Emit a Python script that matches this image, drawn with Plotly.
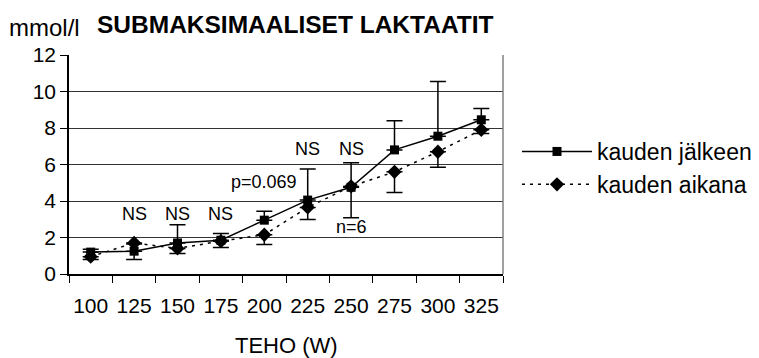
import plotly.graph_objects as go

# ---- data ----
categories = ["100", "125", "150", "175", "200", "225", "250", "275", "300", "325"]
after_season = [1.2, 1.25, 1.7, 1.85, 2.95, 4.05, 4.75, 6.8, 7.55, 8.45]
after_err_plus = [0.15, 0.4, 1.0, 0.37, 0.49, 1.7, 1.34, 1.6, 3.0, 0.62]
during_season = [0.95, 1.7, 1.4, 1.8, 2.15, 3.65, 4.8, 5.6, 6.7, 7.9]
during_err_minus = [0.15, 0.9, 0.27, 0.35, 0.53, 0.67, 1.72, 1.14, 0.85, 0.2]
series_names = ["kauden jälkeen", "kauden aikana"]

note_texts = ["NS", "NS", "NS", "NS", "NS", "p=0.069", "n=6"]
note_x = ["125", "150", "175", "225", "250", "200", "250"]
note_y = [3.3, 3.3, 3.3, 6.85, 6.85, 5.03, 2.55]
y_ticks = [0, 2, 4, 6, 8, 10, 12]

FONT = "Arial, Liberation Sans, sans-serif"

# plot-area geometry (pixels)
L, R, T, B = 69, 503, 55, 274
W, H = 759, 358


def xp(px):
    return (px - L) / (R - L)


def yp(py):
    return (B - py) / (B - T)


fig = go.Figure()
fig.add_trace(go.Scatter(
    x=categories, y=after_season, name=series_names[0], mode="lines+markers",
    line=dict(color="black", width=1.5),
    marker=dict(symbol="square", size=9, color="black"),
    error_y=dict(type="data", symmetric=False, array=after_err_plus,
                 arrayminus=[0] * len(after_err_plus), color="black",
                 thickness=1.5, width=8),
))
fig.add_trace(go.Scatter(
    x=categories, y=during_season, name=series_names[1], mode="lines+markers",
    line=dict(color="black", width=1.5, dash="3px,5px"),
    marker=dict(symbol="diamond", size=11, color="black"),
    error_y=dict(type="data", symmetric=False, array=[0] * len(during_err_minus),
                 arrayminus=during_err_minus, color="black",
                 thickness=1.5, width=8),
))

for t, x, y in zip(note_texts, note_x, note_y):
    fig.add_annotation(x=categories.index(x), y=y, text=t, showarrow=False,
                       xref="x", yref="y", xanchor="center", yanchor="middle",
                       font=dict(family=FONT, size=18, color="black"))

fig.add_annotation(x=xp(295.5), y=yp(25), xref="paper", yref="paper",
                   text="<b>SUBMAKSIMAALISET LAKTAATIT</b>", showarrow=False,
                   xanchor="center", yanchor="middle",
                   font=dict(family=FONT, size=24.5, color="black"))
fig.add_annotation(x=xp(7), y=yp(28), xref="paper", yref="paper",
                   text="mmol/l", showarrow=False, xanchor="left", yanchor="middle",
                   font=dict(family=FONT, size=24, color="black"))
fig.add_annotation(x=xp(286), y=yp(345), xref="paper", yref="paper",
                   text="TEHO (W)", showarrow=False, xanchor="center", yanchor="middle",
                   font=dict(family=FONT, size=22, color="black"))

# right border of plot area
fig.add_shape(type="line", xref="paper", yref="paper", x0=1, x1=1, y0=0, y1=1,
              line=dict(color="#808080", width=1.5))

fig.update_layout(
    width=W, height=H,
    margin=dict(l=L, r=W - R, t=T, b=H - B, pad=0, autoexpand=False),
    paper_bgcolor="white", plot_bgcolor="white",
    font=dict(family=FONT, size=20, color="black"),
    showlegend=True,
    legend=dict(x=xp(517), y=yp(130), xanchor="left", yanchor="top",
                font=dict(family=FONT, size=23, color="black"),
                bgcolor="rgba(0,0,0,0)", itemwidth=70,
                tracegroupgap=4),
    xaxis=dict(type="category", range=[-0.5, 9.5], showgrid=False,
               showline=True, linecolor="black", linewidth=1.5,
               ticks="outside", ticklen=7, tickcolor="black", tickwidth=1,
               tickson="boundaries", ticklabelstandoff=12, tickangle=0,
               tickfont=dict(family=FONT, size=21, color="black"),
               zeroline=False, fixedrange=True, automargin=False),
    yaxis=dict(range=[0, 12], tickvals=y_ticks, showgrid=True, gridcolor="#333333",
               gridwidth=1, showline=True, linecolor="black", linewidth=1.5,
               ticks="outside", ticklen=7, tickcolor="black", tickwidth=1,
               ticklabelstandoff=0,
               tickfont=dict(family=FONT, size=21, color="black"),
               zeroline=False, fixedrange=True, automargin=False),
)

fig.write_html("out.html")
